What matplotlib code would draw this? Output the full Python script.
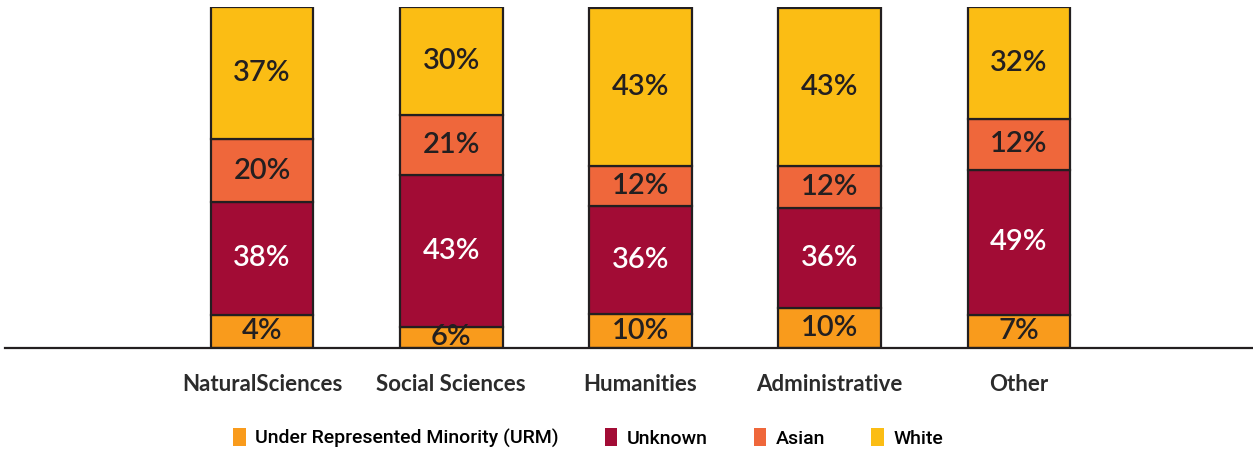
import matplotlib
matplotlib.use("Agg")
import matplotlib.pyplot as plt
from matplotlib.patches import Patch

# --- Données ---
categories = ["NaturalSciences", "Social Sciences", "Humanities", "Administrative", "Other"]
groupes = ["Under Represented Minority (URM)", "Unknown", "Asian", "White"]

# pourcentages affichés dans les barres
urm_pct = [4, 6, 10, 10, 7]
unknown_pct = [38, 43, 36, 36, 49]
asian_pct = [20, 21, 12, 12, 12]
white_pct = [37, 30, 43, 43, 32]

# hauteurs dessinées (lues sur l'image, pas proportionnelles aux étiquettes)
urm_h = [9.7, 6.2, 10.0, 11.7, 9.7]
unknown_h = [33.1, 44.6, 31.7, 29.3, 42.5]
asian_h = [18.5, 17.6, 11.7, 12.3, 15.0]
white_h = [38.7, 31.7, 46.3, 46.3, 32.8]

couleurs = ["#F99B1C", "#A20C35", "#EF673B", "#FBBD14"]
couleurs_texte = ["#231F20", "white", "#231F20", "#231F20"]
edge = "#231F20"

fig = plt.figure(figsize=(12.53, 4.54), dpi=100)
ax = fig.add_axes([5 / 1253, 106 / 454, 1 - 5 / 1253, 341 / 454])

x = list(range(len(categories)))
largeur = 0.544
bas = [0.0] * len(categories)
for hauteurs, pcts, coul, coul_txt in zip(
    [urm_h, unknown_h, asian_h, white_h],
    [urm_pct, unknown_pct, asian_pct, white_pct],
    couleurs, couleurs_texte,
):
    ax.bar(x, hauteurs, largeur, bottom=bas, color=coul, edgecolor=edge, linewidth=1.6)
    for i in x:
        ax.text(i, bas[i] + hauteurs[i] / 2, f"{pcts[i]}%", ha="center", va="center",
                color=coul_txt, fontsize=21, family="Lato", fontweight="semibold")
    bas = [b + h for b, h in zip(bas, hauteurs)]

ax.set_xlim((5 - 262) / 189.25, (1253 - 262) / 189.25)
ax.set_ylim(0, 100)
for s in ["top", "right", "left"]:
    ax.spines[s].set_visible(False)
ax.spines["bottom"].set_linewidth(1.6)
ax.spines["bottom"].set_color(edge)
ax.spines["bottom"].set_zorder(5)
ax.set_yticks([])
ax.set_xticks(x)
ax.set_xticklabels(categories, fontsize=16, family="Lato", fontweight="bold", color="#2B2B2B")
ax.tick_params(axis="x", length=0, pad=19)

# Légende
handles = [Patch(facecolor=c, edgecolor="none") for c in couleurs]
fig.legend(handles, groupes, loc="center", bbox_to_anchor=(588 / 1253, 1 - 438 / 454),
           ncol=4, frameon=False, handlelength=0.65, handleheight=1.0, handletextpad=0.5,
           columnspacing=2.35, prop={"family": "Roboto", "size": 14, "weight": "medium"})

plt.savefig("out.png", dpi=100)
